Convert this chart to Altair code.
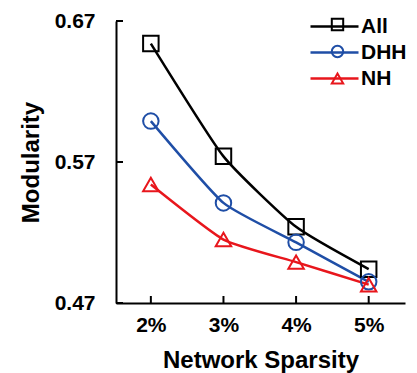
import altair as alt
import pandas as pd

sparsity = [2, 3, 4, 5]
series_names = ["All", "DHH", "NH"]
all_vals = [0.654, 0.574, 0.524, 0.494]
dhh_vals = [0.599, 0.541, 0.513, 0.485]
nh_vals = [0.554, 0.515, 0.499, 0.483]
colors = ["#000000", "#1f4ea6", "#e8161c"]
shapes = ["square", "circle", "triangle-up"]
y_ticks = [0.47, 0.57, 0.67]

# marker legend uses a separate (hidden-label) key so it is not merged with the line legend
marker_keys = [n + " " for n in series_names]

rows = []
for name, key, vals in zip(series_names, marker_keys, [all_vals, dhh_vals, nh_vals]):
    for s, v in zip(sparsity, vals):
        rows.append({"sparsity": s, "value": v, "series": name, "marker": key})
df = pd.DataFrame(rows)
xt = pd.DataFrame({"sparsity": sparsity})
yt = pd.DataFrame({"value": y_ticks})

FONT = "Liberation Sans"

xscale = alt.Scale(domain=[1.52, 5.5], nice=False, zero=False)
yscale = alt.Scale(domain=[0.47, 0.67], nice=False, zero=False)

x = alt.X("sparsity:Q", scale=xscale,
          axis=alt.Axis(values=sparsity, labelExpr="datum.value + '%'",
                        title="Network Sparsity", ticks=False, tickSize=0,
                        labelPadding=11, titlePadding=13))
y = alt.Y("value:Q", scale=yscale,
          axis=alt.Axis(values=y_ticks, format=".2f", title="Modularity",
                        ticks=False, tickSize=0, labelPadding=21, titlePadding=11))

xticks = alt.Chart(xt).mark_rule(color="black", strokeWidth=2).encode(
    x=alt.X("sparsity:Q", scale=xscale), y=alt.value(282), y2=alt.value(275))
yticks = alt.Chart(yt).mark_rule(color="black", strokeWidth=2).encode(
    y=alt.Y("value:Q", scale=yscale), x=alt.value(0), x2=alt.value(7))

lines = alt.Chart(df).mark_line(strokeWidth=2.5, interpolate="cardinal", tension=0.5).encode(
    x=x, y=y,
    stroke=alt.Stroke("series:N",
                      scale=alt.Scale(domain=series_names, range=colors),
                      legend=alt.Legend(orient="none", legendX=205, legendY=-8,
                                        title=None, symbolType="M-2,0H2",
                                        symbolSize=576, symbolStrokeWidth=2.5,
                                        labelFontSize=21, labelFont=FONT,
                                        labelFontWeight="bold", labelColor="black",
                                        labelOffset=13, rowPadding=2, padding=0)),
)

points = alt.Chart(df).mark_point(filled=False, size=240, strokeWidth=2, opacity=1).encode(
    x=x, y=y,
    color=alt.Color("marker:N", scale=alt.Scale(domain=marker_keys, range=colors),
                    legend=alt.Legend(orient="none", legendX=211, legendY=-7,
                                      title=None, symbolSize=130,
                                      symbolStrokeWidth=2, labelExpr="''",
                                      labelFontSize=21, labelOpacity=0,
                                      rowPadding=5, padding=0)),
    shape=alt.Shape("marker:N", scale=alt.Scale(domain=marker_keys, range=shapes)),
)

chart = alt.layer(xticks, yticks, lines, points).properties(
    width=289, height=282,
    autosize=alt.AutoSizeParams(type="none"),
    padding={"left": 108, "top": 13, "right": 4, "bottom": 70},
).configure_view(stroke=None).configure_axis(
    grid=False, domainColor="black", domainWidth=2, tickColor="black", tickWidth=2,
    labelFont=FONT, labelFontWeight="bold", labelFontSize=21, labelColor="black",
    titleFont=FONT, titleFontWeight="bold", titleFontSize=24, titleColor="black",
)

chart.save("out.html", embed_options={"renderer": "svg", "actions": False})
